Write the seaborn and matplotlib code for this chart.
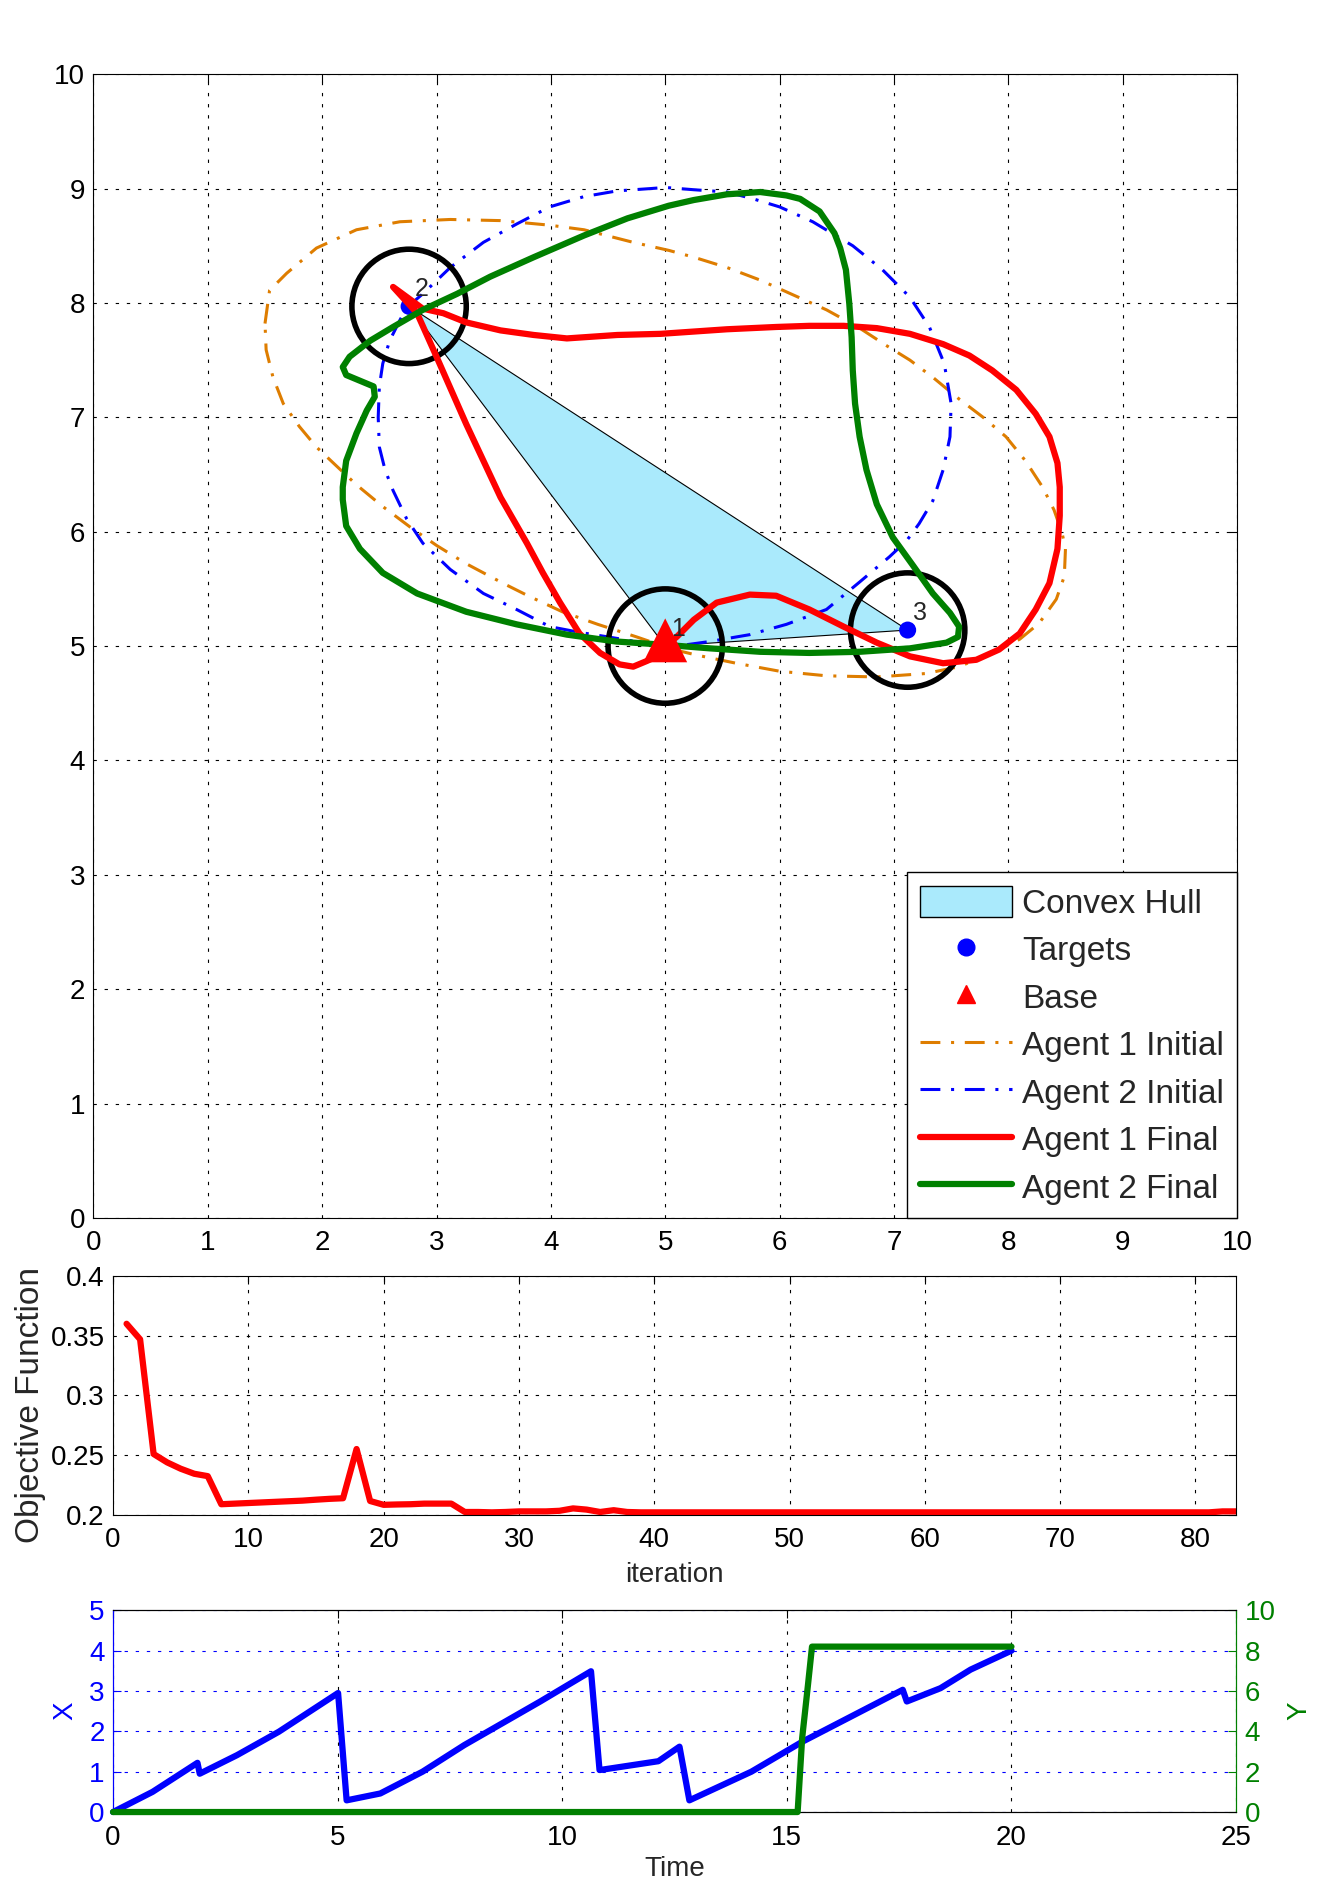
import matplotlib
matplotlib.use("Agg")
import matplotlib.pyplot as plt
import seaborn as sns
from matplotlib.patches import Circle, Patch
from matplotlib.lines import Line2D

# targets, base and target zone radius
target_x = [5.0, 2.76, 7.12]
target_y = [5.0, 7.97, 5.14]
target_names = ["1", "2", "3"]
base_x = [5.0]
base_y = [5.05]
target_radius = 0.5

# agent 1 initial path (orange dash-dot)
a1_init_x = [1.50, 1.54, 1.69, 1.95, 2.30, 2.68, 3.12, 3.56, 3.99, 4.29, 4.72, 5.03, 5.25, 5.54,
             5.83, 6.12, 6.41, 6.70, 6.93, 7.14, 7.34, 7.57, 7.78, 7.98, 8.15, 8.30, 8.40, 8.47,
             8.50, 8.49, 8.42, 8.27, 8.10, 7.86, 7.57, 7.28, 6.85, 6.41, 6.00, 5.62, 5.28, 5.07,
             4.75, 4.41, 4.10, 3.80, 3.58, 3.26, 3.00, 2.77, 2.53, 2.30, 2.13, 1.95, 1.80, 1.66,
             1.57, 1.51, 1.50]
a1_init_y = [7.82, 8.11, 8.26, 8.48, 8.64, 8.71, 8.73, 8.72, 8.68, 8.64, 8.53, 8.46, 8.40, 8.31,
             8.20, 8.07, 7.94, 7.78, 7.63, 7.50, 7.35, 7.16, 7.00, 6.83, 6.62, 6.39, 6.19, 5.99,
             5.85, 5.61, 5.41, 5.20, 5.06, 4.94, 4.82, 4.76, 4.73, 4.74, 4.78, 4.85, 4.92, 4.97,
             5.08, 5.19, 5.30, 5.44, 5.55, 5.72, 5.88, 6.04, 6.22, 6.41, 6.57, 6.74, 6.92, 7.12,
             7.35, 7.59, 7.82]

# agent 2 initial path (blue dash-dot)
a2_init_x = [2.74, 2.88, 3.12, 3.41, 3.70, 3.99, 4.29, 4.58, 4.87, 5.00, 5.25, 5.54, 5.77, 6.00,
             6.29, 6.64, 6.90, 7.14, 7.31, 7.44, 7.50, 7.49, 7.43, 7.34, 7.22, 7.11, 6.96, 6.70,
             6.41, 6.06, 5.74, 5.39, 5.10, 4.80, 4.50, 4.25, 3.99, 3.70, 3.41, 3.12, 2.88, 2.74,
             2.62, 2.55, 2.50, 2.49, 2.50, 2.53, 2.59, 2.68, 2.74]
a2_init_y = [7.96, 8.08, 8.31, 8.53, 8.69, 8.84, 8.93, 8.98, 9.00, 9.01, 8.99, 8.97, 8.91, 8.84,
             8.71, 8.50, 8.29, 8.05, 7.79, 7.47, 7.12, 6.83, 6.54, 6.27, 6.07, 5.92, 5.78, 5.56,
             5.32, 5.19, 5.10, 5.04, 5.00, 5.03, 5.08, 5.12, 5.17, 5.32, 5.46, 5.67, 5.90, 6.11,
             6.36, 6.54, 6.74, 7.00, 7.27, 7.47, 7.67, 7.85, 7.96]

# agent 1 final path (red)
a1_final_x = [5.00, 5.10, 5.25, 5.45, 5.74, 5.97, 6.26, 6.56, 6.85, 7.14, 7.43, 7.72, 7.92, 8.10,
              8.24, 8.36, 8.43, 8.45, 8.45, 8.43, 8.36, 8.24, 8.07, 7.86, 7.66, 7.43, 7.14, 6.85,
              6.56, 6.26, 5.97, 5.54, 5.25, 4.96, 4.58, 4.14, 3.85, 3.56, 3.26, 3.06, 2.88, 2.62,
              2.83, 3.00, 3.26, 3.56, 3.79, 3.93, 4.08, 4.25, 4.43, 4.60, 4.72, 4.84, 4.95, 5.00]
a1_final_y = [5.00, 5.08, 5.23, 5.38, 5.45, 5.44, 5.32, 5.17, 5.03, 4.91, 4.85, 4.88, 4.97, 5.11,
              5.32, 5.55, 5.85, 6.14, 6.39, 6.60, 6.83, 7.03, 7.24, 7.41, 7.54, 7.64, 7.73, 7.78,
              7.80, 7.80, 7.79, 7.77, 7.75, 7.73, 7.72, 7.69, 7.72, 7.76, 7.83, 7.91, 7.95, 8.14,
              7.91, 7.53, 6.94, 6.30, 5.90, 5.64, 5.38, 5.11, 4.94, 4.84, 4.82, 4.87, 4.92, 5.00]

# agent 2 final path (green)
a2_final_x = [5.01, 4.57, 4.14, 3.70, 3.26, 2.83, 2.53, 2.33, 2.21, 2.18, 2.18, 2.21, 2.30, 2.39,
              2.46, 2.45, 2.33, 2.21, 2.18, 2.24, 2.42, 2.62, 2.88, 3.18, 3.47, 3.85, 4.29, 4.67,
              5.03, 5.25, 5.54, 5.83, 6.06, 6.18, 6.35, 6.48, 6.53, 6.58, 6.61, 6.63, 6.64, 6.66,
              6.70, 6.76, 6.85, 6.99, 7.17, 7.34, 7.49, 7.57, 7.56, 7.46, 7.14, 6.70, 6.26, 5.83,
              5.39, 5.01]
a2_final_y = [5.01, 5.04, 5.10, 5.19, 5.30, 5.46, 5.64, 5.85, 6.05, 6.28, 6.39, 6.62, 6.86, 7.06,
              7.18, 7.27, 7.32, 7.37, 7.44, 7.53, 7.67, 7.79, 7.94, 8.08, 8.23, 8.40, 8.59, 8.74,
              8.85, 8.90, 8.95, 8.97, 8.94, 8.91, 8.80, 8.61, 8.48, 8.29, 7.99, 7.70, 7.41, 7.12,
              6.83, 6.54, 6.24, 5.95, 5.70, 5.46, 5.29, 5.17, 5.08, 5.03, 4.98, 4.95, 4.94, 4.95,
              4.98, 5.01]

# objective function per iteration
iteration = list(range(1, 84))
objective = [0.360, 0.347, 0.251, 0.244, 0.2387, 0.2345, 0.2325, 0.209, 0.2095, 0.210,
             0.2105, 0.211, 0.2115, 0.212, 0.2128, 0.2135, 0.214, 0.2552, 0.2117, 0.2085,
             0.2088, 0.209, 0.2095, 0.2095, 0.2095, 0.2025, 0.2025, 0.2022, 0.2025, 0.203,
             0.203, 0.203, 0.2035, 0.2055, 0.2045, 0.2025, 0.204, 0.2025, 0.2022, 0.2022,
             0.2022, 0.2022, 0.2022, 0.2022, 0.2022, 0.2022, 0.2022, 0.2022, 0.2022, 0.2022,
             0.2022, 0.2022, 0.2022, 0.2022, 0.2022, 0.2022, 0.2022, 0.2022, 0.2022, 0.2022,
             0.2022, 0.2022, 0.2022, 0.2022, 0.2022, 0.2022, 0.2022, 0.2022, 0.2022, 0.2022,
             0.2022, 0.2022, 0.2022, 0.2022, 0.2022, 0.2022, 0.2022, 0.2022, 0.2022, 0.2022,
             0.2022, 0.203, 0.203]

# X and Y against time
time_x = [0, 0.88, 1.88, 1.93, 2.76, 3.69, 5.01, 5.20, 5.95, 6.89, 7.82, 9.51, 10.64, 10.83,
          12.14, 12.61, 12.83, 14.21, 15.34, 17.58, 17.67, 18.42, 19.09, 20.0]
x_vals = [0, 0.50, 1.22, 0.95, 1.41, 1.99, 2.95, 0.29, 0.46, 1.0, 1.66, 2.74, 3.49, 1.04,
          1.26, 1.62, 0.29, 1.0, 1.74, 3.03, 2.74, 3.07, 3.53, 4.0]
time_y = [0, 15.24, 15.34, 15.47, 15.56, 20.0]
y_vals = [0, 0, 3.65, 6.3, 8.2, 8.2]

orange = "#DE7D00"
hull_color = "#AAEAFC"
green = "#008000"
dashdot = (0, (6.5, 3.5, 1, 3.5))
grid_ls = (0, (3, 7))
tick_fs = 20
round_join = dict(solid_joinstyle="round", dash_joinstyle="round", solid_capstyle="round")

sns.set_style("white")
plt.rcParams["font.family"] = ["Liberation Sans", "DejaVu Sans"]
plt.rcParams["axes.edgecolor"] = "black"
plt.rcParams["axes.linewidth"] = 0.8

fig = plt.figure(figsize=(13.22, 19.03), dpi=100)


def style_axes(ax):
    ax.tick_params(direction="in", length=6, width=0.8, top=True, right=True,
                   labelsize=tick_fs, colors="black")
    ax.tick_params(axis="x", pad=9)
    ax.tick_params(axis="y", pad=6)
    ax.grid(True, color="black", linestyle=grid_ls, linewidth=0.8)


# main trajectory plot
ax1 = fig.add_axes([0.0707, 0.360, 0.865, 0.601])
ax1.fill(target_x, target_y, facecolor=hull_color, edgecolor="black", lw=0.8, zorder=1.5)
sns.lineplot(x=a1_init_x, y=a1_init_y, sort=False, estimator=None, ax=ax1, color=orange,
             lw=2.2, linestyle=dashdot, zorder=2, **round_join)
sns.lineplot(x=a2_init_x, y=a2_init_y, sort=False, estimator=None, ax=ax1, color="blue",
             lw=2.2, linestyle=dashdot, zorder=2, **round_join)
for cx, cy in zip(target_x, target_y):
    ax1.add_patch(Circle((cx, cy), target_radius, fill=False, ec="black", lw=4, zorder=2.5))
sns.scatterplot(x=target_x, y=target_y, ax=ax1, color="blue", s=150, edgecolor="none",
                zorder=2.7)
sns.lineplot(x=a1_final_x, y=a1_final_y, sort=False, estimator=None, ax=ax1, color="red",
             lw=4.5, zorder=3, **round_join)
sns.lineplot(x=a2_final_x, y=a2_final_y, sort=False, estimator=None, ax=ax1, color=green,
             lw=4.5, zorder=3, **round_join)
sns.scatterplot(x=base_x, y=base_y, ax=ax1, color="red", marker="^", s=1000,
                edgecolor="none", zorder=5)
for tx, ty, name in zip(target_x, target_y, target_names):
    ax1.text(tx + 0.05, ty + 0.15, name, fontsize=18, ha="left", va="center", zorder=4.5)
ax1.set_xlim(0, 10)
ax1.set_ylim(0, 10)
ax1.set_xticks(range(0, 11))
ax1.set_yticks(range(0, 11))
style_axes(ax1)

handles = [
    Patch(facecolor=hull_color, edgecolor="black", lw=1.0),
    Line2D([], [], ls="none", marker="o", color="blue", ms=12),
    Line2D([], [], ls="none", marker="^", color="red", ms=13),
    Line2D([], [], color=orange, lw=2.2, linestyle=dashdot),
    Line2D([], [], color="blue", lw=2.2, linestyle=dashdot),
    Line2D([], [], color="red", lw=4.5),
    Line2D([], [], color=green, lw=4.5),
]
labels = ["Convex Hull", "Targets", "Base", "Agent 1 Initial", "Agent 2 Initial",
          "Agent 1 Final", "Agent 2 Final"]
leg = ax1.legend(handles, labels, loc="lower right", borderaxespad=0, fontsize=24,
                 frameon=True, fancybox=False, edgecolor="black", framealpha=1,
                 handlelength=2.75, handleheight=1.05, handletextpad=0.3,
                 labelspacing=0.41, borderpad=0.4)
leg.get_frame().set_linewidth(1.0)
leg.set_zorder(10)

# objective function
ax2 = fig.add_axes([0.0855, 0.2039, 0.8495, 0.1256])
sns.lineplot(x=iteration, y=objective, ax=ax2, color="red", lw=4.5, **round_join)
ax2.set_xlim(0, 83)
ax2.set_ylim(0.2, 0.4)
ax2.set_xticks(range(0, 81, 10))
ax2.set_yticks([0.2, 0.25, 0.3, 0.35, 0.4])
ax2.set_yticklabels(["0.2", "0.25", "0.3", "0.35", "0.4"])
style_axes(ax2)
ax2.set_xlabel("iteration", fontsize=20, labelpad=6)
ax2.set_ylabel("Objective Function", fontsize=24)
ax2.yaxis.set_label_coords(-0.06, 0.462)

# X / Y against time
ax3 = fig.add_axes([0.0855, 0.0478, 0.8495, 0.106])
ax3r = ax3.twinx()
sns.lineplot(x=time_x, y=x_vals, ax=ax3, color="blue", lw=4.5, sort=False, estimator=None,
             clip_on=False, zorder=3, **round_join)
sns.lineplot(x=time_y, y=y_vals, ax=ax3r, color=green, lw=4.5, sort=False, estimator=None,
             clip_on=False, zorder=3, **round_join)
ax3.set_xlim(0, 25)
ax3.set_ylim(0, 5)
ax3r.set_ylim(0, 10)
ax3.set_xticks(range(0, 26, 5))
ax3.set_yticks(range(0, 6))
ax3r.set_yticks(range(0, 11, 2))
ax3.tick_params(direction="in", length=6, width=0.8, top=True, labelsize=tick_fs)
ax3.tick_params(axis="x", pad=9, colors="black")
ax3.tick_params(axis="y", pad=6, colors="blue")
ax3r.tick_params(axis="y", direction="in", length=6, width=0.8, labelsize=tick_fs, pad=6,
                 colors=green)
ax3.grid(True, axis="x", color="black", linestyle=grid_ls, linewidth=0.8)
ax3.grid(True, axis="y", color="blue", linestyle=grid_ls, linewidth=0.8)
ax3.spines["left"].set_color("blue")
ax3r.spines["left"].set_color("blue")
ax3r.spines["right"].set_color(green)
ax3.spines["right"].set_color(green)
ax3.set_xlabel("Time", fontsize=20, labelpad=4)
ax3.set_ylabel("X", fontsize=20, color="blue", labelpad=8)
ax3r.set_ylabel("Y", fontsize=20, color=green, labelpad=8)

fig.savefig("out.png", dpi=100)
